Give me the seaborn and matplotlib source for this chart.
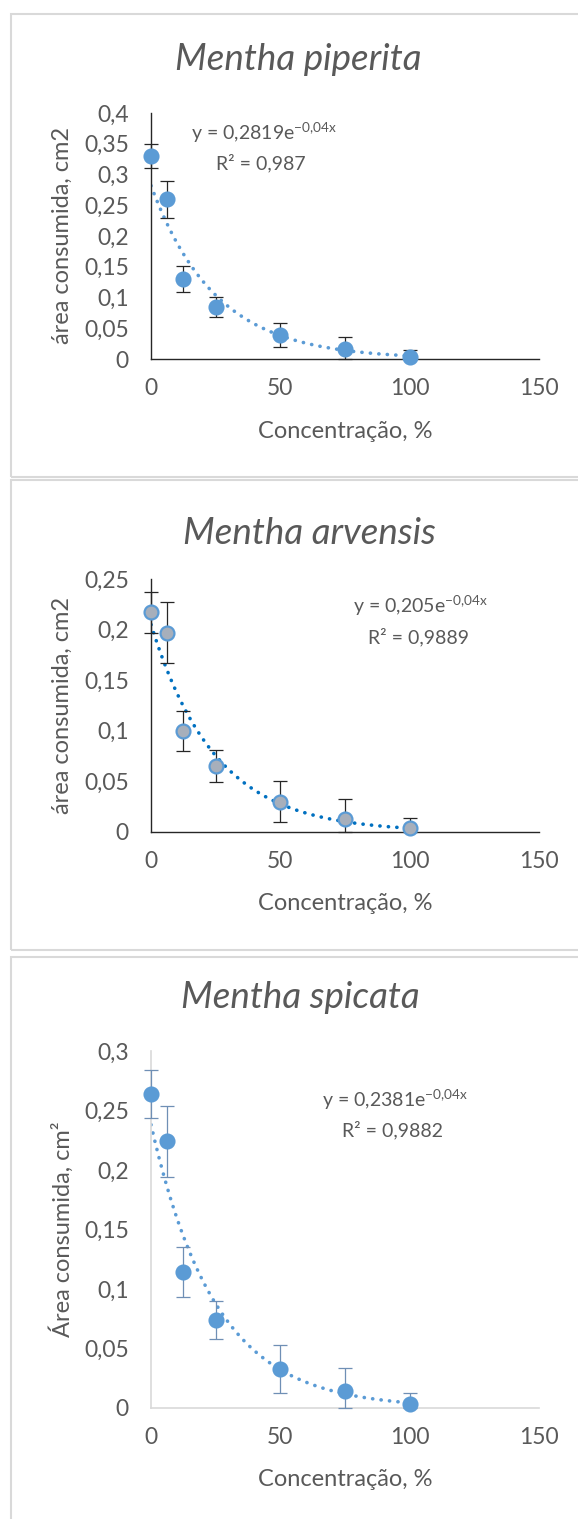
import numpy as np
import pandas as pd
import matplotlib
matplotlib.use("Agg")
import matplotlib.pyplot as plt
import seaborn as sns
from matplotlib.patches import Rectangle

# ---------- DATA -------------------------------------------------------------
conc = [0, 6.25, 12.5, 25, 50, 75, 100]

piperita_area = [0.330, 0.260, 0.130, 0.085, 0.039, 0.016, 0.003]
piperita_err = [0.020, 0.030, 0.021, 0.016, 0.020, 0.020, 0.012]
piperita_fit = (0.2819, -0.04)

arvensis_area = [0.217, 0.197, 0.100, 0.065, 0.030, 0.013, 0.004]
arvensis_err = [0.020, 0.030, 0.020, 0.016, 0.020, 0.020, 0.010]
arvensis_fit = (0.205, -0.04)

spicata_area = [0.264, 0.224, 0.114, 0.074, 0.033, 0.014, 0.003]
spicata_err = [0.020, 0.030, 0.021, 0.016, 0.020, 0.020, 0.010]
spicata_fit = (0.2381, -0.04)

titles = ["Mentha piperita", "Mentha arvensis", "Mentha spicata"]
equations = [r"y = 0,2819e$^{\mathregular{-0{,}04x}}$",
             r"y = 0,205e$^{\mathregular{-0{,}04x}}$",
             r"y = 0,2381e$^{\mathregular{-0{,}04x}}$"]
r2_labels = ["R² = 0,987", "R² = 0,9889", "R² = 0,9882"]
ylabels = ["área consumida, cm2", "área consumida, cm2", "Área consumida, cm²"]
xlabel = "Concentração, %"

xticks = [0, 50, 100, 150]
yticks_1 = [0, 0.05, 0.1, 0.15, 0.2, 0.25, 0.3, 0.35, 0.4]
yticks_2 = [0, 0.05, 0.1, 0.15, 0.2, 0.25]
yticks_3 = [0, 0.05, 0.1, 0.15, 0.2, 0.25, 0.3]

# ---------- STYLE ------------------------------------------------------------
sns.set_style("white")
plt.rcParams["font.family"] = ["Lato", "DejaVu Sans"]
TXT = "#595959"
BLUE = "#5B9BD5"
DARKBLUE = "#0070C0"
TICK_FS = 16.5
LABEL_FS = 17
TITLE_FS = 26.5
EQ_FS = 14

W, H = 578, 1519
fig = plt.figure(figsize=(W / 100, H / 100), dpi=100)


def fx(px):
    return px / W


def fy(py):
    return 1 - py / H


def fmt(v):
    return f"{v:g}".replace(".", ",")


# panel frames
for top, bot in [(14, 477), (480, 950), (957, 1530)]:
    fig.patches.append(Rectangle((fx(11), fy(bot)), fx(580) - fx(11), fy(top) - fy(bot),
                                 transform=fig.transFigure, fill=False,
                                 edgecolor="#D9D9D9", lw=1.5))

panels = [
    dict(area=piperita_area, err=piperita_err, fit=piperita_fit, yticks=yticks_1,
         top=113, bottom=359, face=BLUE, edge=BLUE, line=BLUE, bar="#262626",
         style="cross", title_xy=(298, 70), eq_xy=(264, 140), r2_xy=(261, 169)),
    dict(area=arvensis_area, err=arvensis_err, fit=arvensis_fit, yticks=yticks_2,
         top=579, bottom=832, face="#A7AFBB", edge=BLUE, line=DARKBLUE, bar="#262626",
         style="cross", title_xy=(309, 544), eq_xy=(420, 613), r2_xy=(418, 643)),
    dict(area=spicata_area, err=spicata_err, fit=spicata_fit, yticks=yticks_3,
         top=1051, bottom=1408, face=BLUE, edge=BLUE, line=BLUE, bar="#6F8FB5",
         style="plain", title_xy=(300, 1008), eq_xy=(395, 1107), r2_xy=(393, 1136)),
]

for i, p in enumerate(panels):
    h = p["bottom"] - p["top"]
    ax = fig.add_axes([fx(151), fy(p["bottom"]), fx(539) - fx(151), h / H])
    df = pd.DataFrame({"x": conc, "y": p["area"], "e": p["err"]})
    # error bars stop at the x axis, as in the original chart
    lower = np.minimum(df["e"], df["y"])

    # exponential trend line from displayed coefficients
    a, b = p["fit"]
    xs = np.linspace(0, 100, 200)
    trend = pd.DataFrame({"x": xs, "y": a * np.exp(b * xs)})
    sns.lineplot(data=trend, x="x", y="y", ax=ax, color=p["line"], lw=2.6,
                 linestyle=(0, (0.05, 2.3)), dash_capstyle="round", zorder=2)

    ax.errorbar(df["x"], df["y"], yerr=[lower, df["e"]], fmt="none", ecolor=p["bar"],
                elinewidth=0.9, capsize=4.7, capthick=0.9, zorder=3, clip_on=False)
    sns.scatterplot(data=df, x="x", y="y", ax=ax, s=100, color=p["face"],
                    edgecolor=p["edge"], linewidth=1.6, zorder=4, clip_on=False)

    ax.set_xlim(0, 150)
    ax.set_ylim(0, p["yticks"][-1])
    ax.set_xticks(xticks)
    ax.set_xticklabels([fmt(t) for t in xticks])
    ax.set_yticks(p["yticks"])
    ax.set_yticklabels([fmt(t) for t in p["yticks"]])
    for s in ["top", "right"]:
        ax.spines[s].set_visible(False)

    if p["style"] == "cross":
        for s in ["left", "bottom"]:
            ax.spines[s].set_color("#262626")
            ax.spines[s].set_linewidth(1.0)
        ax.tick_params(axis="both", direction="inout", length=12, width=1.0,
                       color="#262626", labelsize=TICK_FS, labelcolor=TXT)
        ax.tick_params(axis="y", pad=10)
        ax.tick_params(axis="x", pad=8)
    else:
        for s in ["left", "bottom"]:
            ax.spines[s].set_color("#D9D9D9")
            ax.spines[s].set_linewidth(1.2)
        ax.tick_params(axis="both", length=0, labelsize=TICK_FS, labelcolor=TXT)
        ax.tick_params(axis="y", pad=16)
        ax.tick_params(axis="x", pad=14)

    ax.set_xlabel(xlabel, fontsize=LABEL_FS, color=TXT)
    ax.set_ylabel(ylabels[i], fontsize=LABEL_FS, color=TXT)
    ax.xaxis.set_label_coords(0.5, -72 / h)
    ax.xaxis.label.set_verticalalignment("center")
    ax.yaxis.set_label_coords((62 - 151) / 388, 0.5)
    ax.yaxis.label.set_verticalalignment("center")
    ax.patch.set_alpha(0)

    tx, ty = p["title_xy"]
    fig.text(fx(tx), fy(ty), titles[i], fontsize=TITLE_FS, style="italic", color=TXT,
             ha="center", va="baseline")
    ex, ey = p["eq_xy"]
    fig.text(fx(ex), fy(ey), equations[i], fontsize=EQ_FS, color=TXT,
             ha="center", va="baseline")
    rx, ry = p["r2_xy"]
    fig.text(fx(rx), fy(ry), r2_labels[i], fontsize=EQ_FS, color=TXT,
             ha="center", va="baseline")

fig.savefig("out.png", dpi=100)
